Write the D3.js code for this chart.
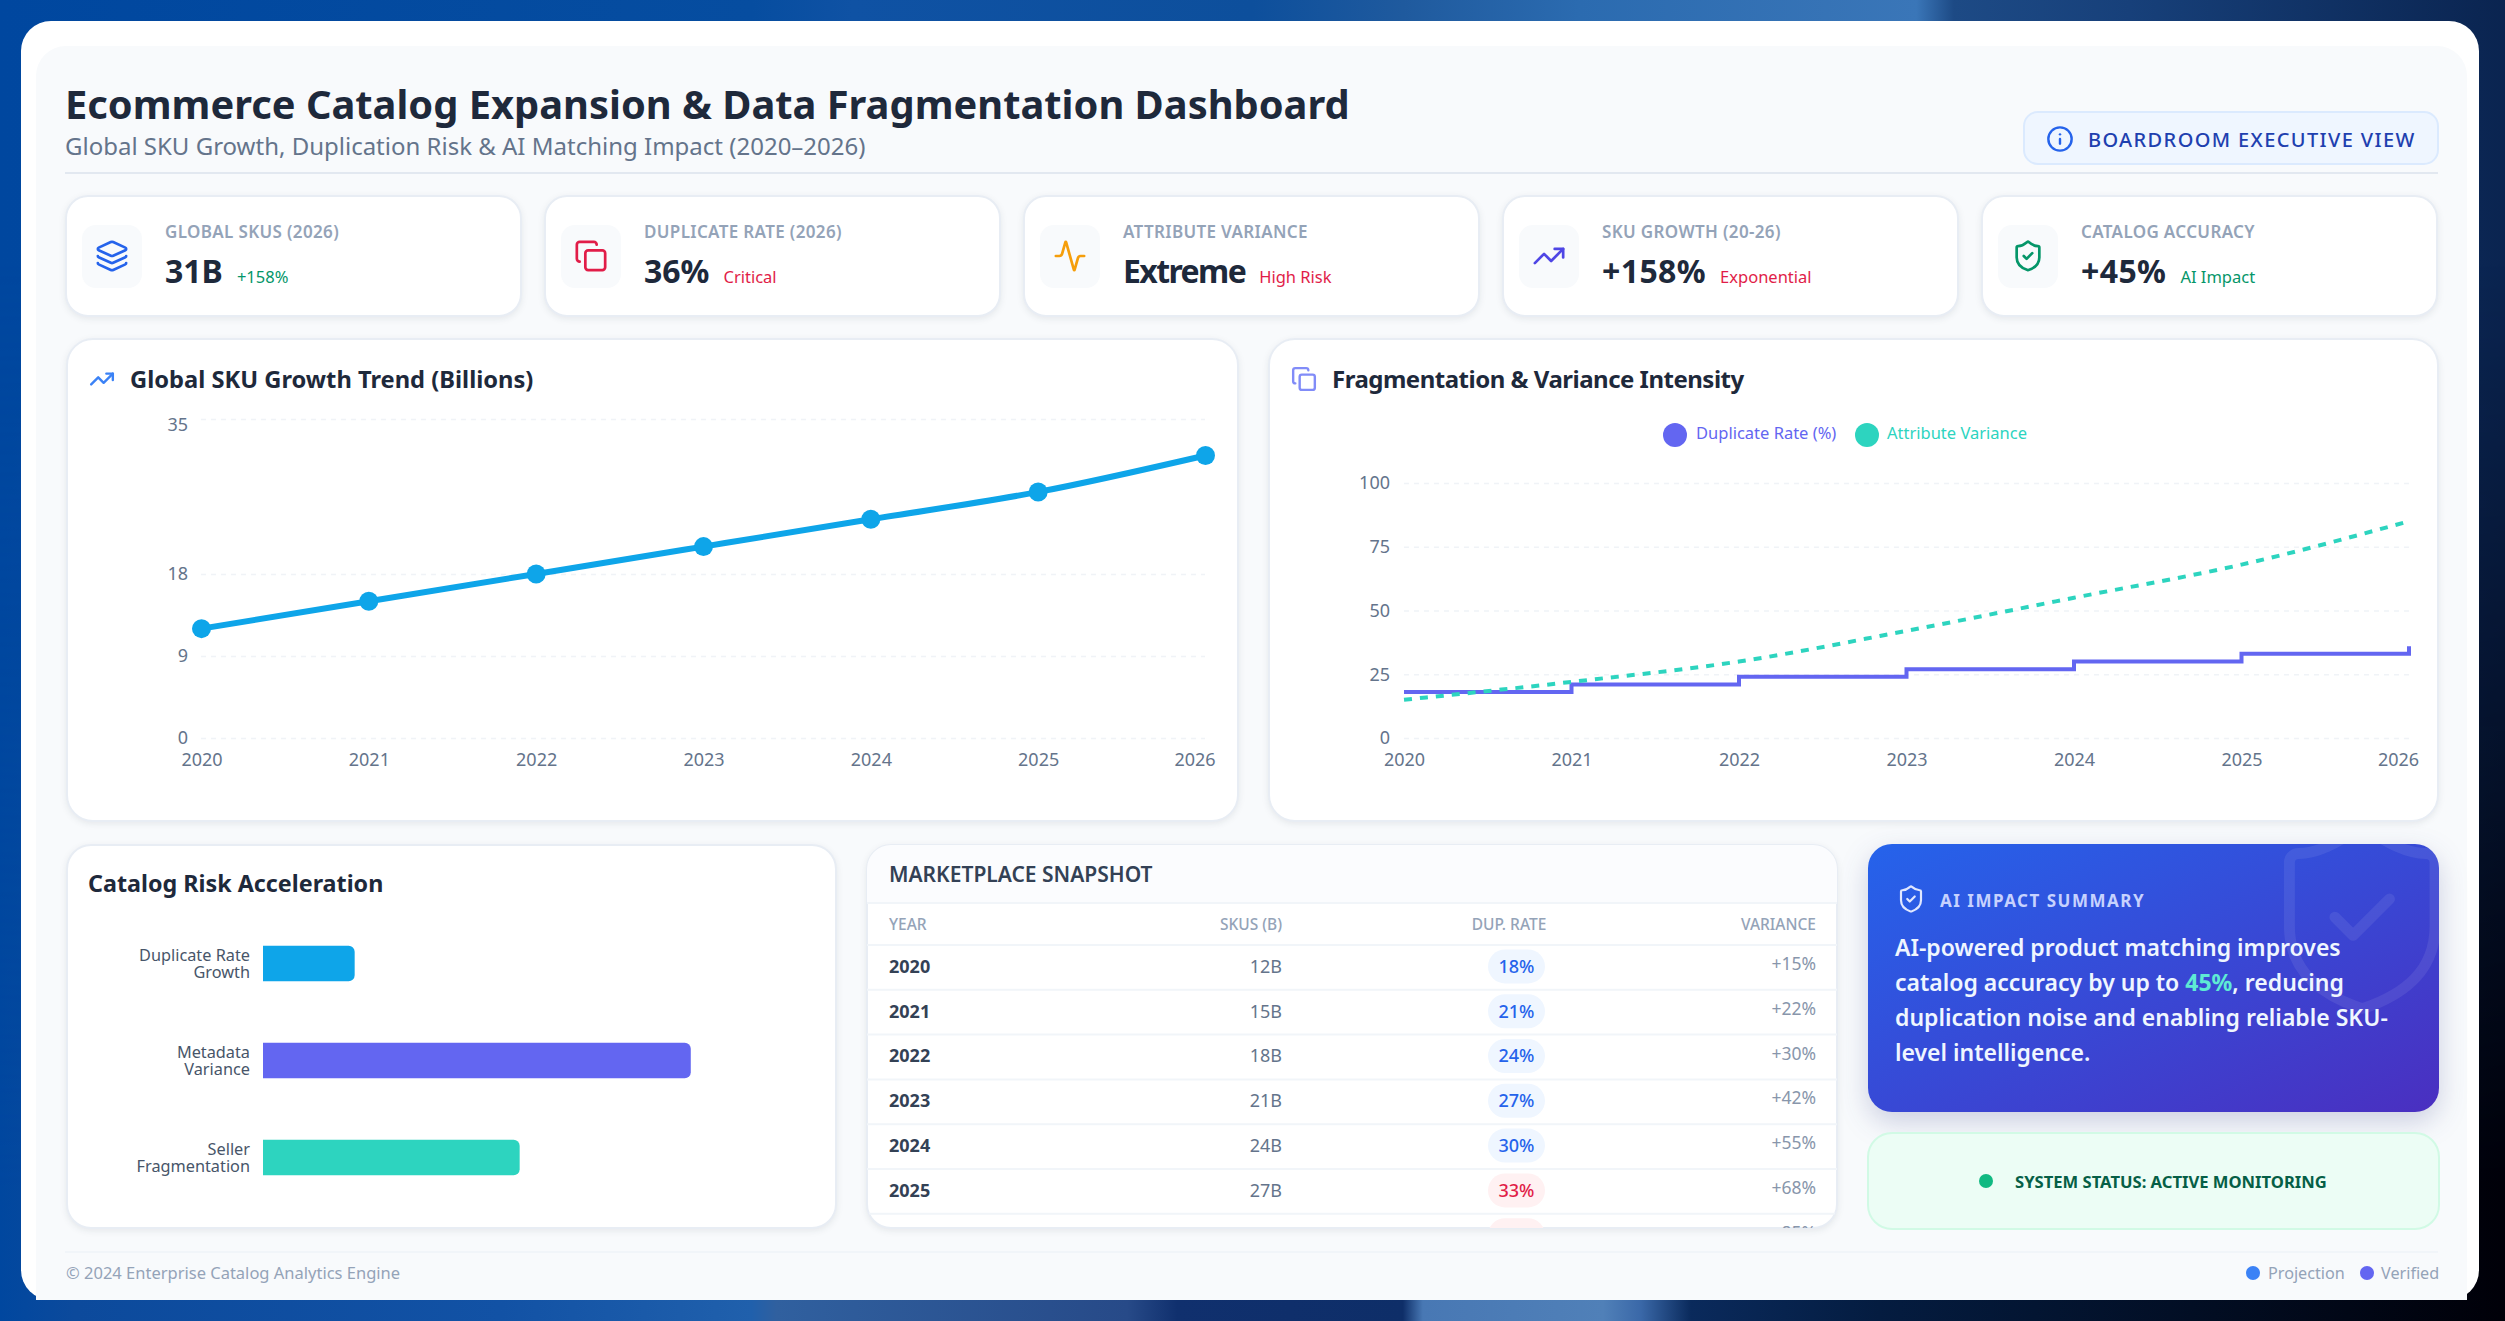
<!DOCTYPE html>
<html>
<head>
    <meta charset="utf-8">
    <title>Ecommerce Catalog Dashboard</title>
    <style>
        html, body { margin: 0; padding: 0; background: #00479f; overflow: hidden; }
        svg { display: block; }
        text { font-family: "Noto Sans", "Open Sans", sans-serif; }
        .card { fill: #fff; stroke: #e8edf4; stroke-width: 2; filter: drop-shadow(0 2px 3px rgba(15,23,42,.08)); }
        .grid line { stroke: #f0f3f7; stroke-width: 1.6; stroke-dasharray: 5 5; }
        .tick text { fill: #64748b; font-size: 18px; }
    </style>
</head>
<body>
<svg id="dash" width="2505" height="1321" viewBox="0 0 2505 1321"></svg>
<script src="https://d3js.org/d3.v7.min.js"></script>
<script>
    // chart data
    const years = [2020, 2021, 2022, 2023, 2024, 2025, 2026];
    const skuValues = [12, 15, 18, 21, 24, 27, 31];
    const dupRates = [18, 21, 24, 27, 30, 33, 36];
    const varianceValues = [15, 22, 30, 42, 55, 68, 85];
    const skuTicks = [0, 9, 18, 35];
    const fragTicks = [0, 25, 50, 75, 100];
    const riskLabels = [['Duplicate Rate', 'Growth'], ['Metadata', 'Variance'], ['Seller', 'Fragmentation']];
    const riskValues = [15, 70, 42];

    // kpi row
    const kpiLabels = ['GLOBAL SKUS (2026)', 'DUPLICATE RATE (2026)', 'ATTRIBUTE VARIANCE', 'SKU GROWTH (20-26)', 'CATALOG ACCURACY'];
    const kpiValues = ['31B', '36%', 'Extreme', '+158%', '+45%'];
    const kpiNotes = ['+158%', 'Critical', 'High Risk', 'Exponential', 'AI Impact'];
    const tableHeads = ['YEAR', 'SKUS (B)', 'DUP. RATE', 'VARIANCE'];
    const aiLines = ['AI-powered product matching improves', 'catalog accuracy by up to ', 'duplication noise and enabling reliable SKU-', 'level intelligence.'];

    // styles
    const kpiIconColors = ['#2563eb', '#e11d48', '#f59e0b', '#4f46e5', '#059669'];
    const kpiNoteColors = ['#059669', '#e11d48', '#e11d48', '#e11d48', '#059669'];
    const kpiValueSpacing = [0, 0, -1.6, 0.4, 0.4];
    const riskColors = ['#0ea5e9', '#6366f1', '#2dd4bf'];

    const icons = {
        layers: ['M12.83 2.18a2 2 0 0 0-1.66 0L2.6 6.08a1 1 0 0 0 0 1.83l8.58 3.91a2 2 0 0 0 1.66 0l8.58-3.9a1 1 0 0 0 0-1.83z', 'M2 12a1 1 0 0 0 .58.91l8.6 3.91a2 2 0 0 0 1.65 0l8.58-3.9A1 1 0 0 0 22 12', 'M2 17a1 1 0 0 0 .58.91l8.6 3.91a2 2 0 0 0 1.65 0l8.58-3.9A1 1 0 0 0 22 17'],
        copy: ['M10 8h10a2 2 0 0 1 2 2v10a2 2 0 0 1-2 2H10a2 2 0 0 1-2-2V10a2 2 0 0 1 2-2z', 'M4 16c-1.1 0-2-.9-2-2V4c0-1.1.9-2 2-2h10c1.1 0 2 .9 2 2'],
        activity: ['M22 12h-2.48a2 2 0 0 0-1.93 1.46l-2.35 8.36a.25.25 0 0 1-.48 0L9.24 2.18a.25.25 0 0 0-.48 0l-2.35 8.36A2 2 0 0 1 4.49 12H2'],
        trend: ['M16 7h6v6', 'm22 7-8.5 8.5-5-5L2 17'],
        shield: ['M20 13c0 5-3.5 7.5-7.66 8.95a1 1 0 0 1-.67-.01C7.5 20.5 4 18 4 13V6a1 1 0 0 1 1-1c2 0 4.5-1.2 6.24-2.72a1.17 1.17 0 0 1 1.52 0C14.51 3.81 17 5 19 5a1 1 0 0 1 1 1z', 'm9 12 2 2 4-4'],
        info: ['M22 12a10 10 0 1 1-20 0 10 10 0 0 1 20 0z', 'M12 16v-4', 'M12 8h.01']
    };

    const svg = d3.select('#dash');
    const defs = svg.append('defs');

    function hGradient(id, stops) {
        const g = defs.append('linearGradient').attr('id', id);
        stops.forEach(s => g.append('stop').attr('offset', s[0]).attr('stop-color', s[1]));
    }

    hGradient('bgTop', [[0, '#00479f'], [.3, '#064da0'], [.34, '#0f52a4'], [.5, '#0d4f9c'], [.56, '#1f5a9e'], [.63, '#2b6bb0'], [.765, '#3a76b8'], [.78, '#1d4a85'], [.85, '#17407a'], [1, '#0a2450']]);
    hGradient('bgBottom', [[0, '#00479f'], [.03, '#0c4a9c'], [.2, '#1252a5'], [.3, '#2060ac'], [.31, '#30609f'], [.45, '#274a88'], [.47, '#10306e'], [.56, '#0e2e68'], [.568, '#4878b4'], [.64, '#5080b8'], [.655, '#3a68a8'], [.675, '#0a2a5c'], [.75, '#041c40'], [1, '#000008']]);
    const fade = defs.append('linearGradient').attr('id', 'fade').attr('x2', 0).attr('y2', 1);
    fade.append('stop').attr('offset', .2).attr('stop-color', '#000');
    fade.append('stop').attr('offset', .9).attr('stop-color', '#fff');
    defs.append('mask').attr('id', 'fadeMask').attr('maskUnits', 'userSpaceOnUse')
        .attr('x', 0).attr('y', 0).attr('width', 2505).attr('height', 1321)
        .append('rect').attr('width', 2505).attr('height', 1321).attr('fill', 'url(#fade)');

    const aiGrad = defs.append('linearGradient').attr('id', 'aiGrad').attr('x1', 0).attr('y1', 0).attr('x2', 1).attr('y2', 1);
    aiGrad.append('stop').attr('offset', 0).attr('stop-color', '#2563eb');
    aiGrad.append('stop').attr('offset', 1).attr('stop-color', '#4a2fc0');

    defs.append('clipPath').attr('id', 'tableClip').append('rect')
        .attr('x', 867).attr('y', 845).attr('width', 970).attr('height', 383).attr('rx', 24);
    defs.append('clipPath').attr('id', 'aiClip').append('rect')
        .attr('x', 1868).attr('y', 844).attr('width', 571).attr('height', 268).attr('rx', 24);

    // background and sheet
    svg.append('rect').attr('width', 2505).attr('height', 1321).attr('fill', 'url(#bgTop)');
    svg.append('rect').attr('width', 2505).attr('height', 1321).attr('fill', 'url(#bgBottom)').attr('mask', 'url(#fadeMask)');
    svg.append('rect').attr('x', 21).attr('y', 21).attr('width', 2458).attr('height', 1279).attr('rx', 30).attr('fill', '#fff');
    svg.append('path').attr('d', 'M36 76a30 30 0 0 1 30-30H2437a30 30 0 0 1 30 30V1300H36z').attr('fill', '#f8fafc');

    function card(x, y, w, h, r) {
        return svg.append('rect').attr('class', 'card').attr('x', x).attr('y', y).attr('width', w).attr('height', h).attr('rx', r);
    }

    function icon(parent, name, cx, cy, size, color, sw) {
        const k = size / 24;
        const g = parent.append('g').attr('transform', `translate(${cx - size / 2},${cy - size / 2}) scale(${k})`)
            .attr('fill', 'none').attr('stroke', color).attr('stroke-width', sw / k)
            .attr('stroke-linecap', 'round').attr('stroke-linejoin', 'round');
        g.selectAll('path').data(icons[name]).join('path').attr('d', d => d);
        return g;
    }

    function label(parent, str, x, y, size, color, opts) {
        opts = opts || {};
        return parent.append('text').attr('x', x).attr('y', y).text(str)
            .attr('font-size', size).attr('fill', color)
            .attr('font-weight', opts.weight || 400)
            .attr('text-anchor', opts.anchor || 'start')
            .attr('letter-spacing', opts.spacing || null)
            .attr('font-family', opts.family || null);
    }

    // header
    label(svg, 'Ecommerce Catalog Expansion & Data Fragmentation Dashboard', 65, 119, 39.85, '#1e293b', { weight: 700 });
    label(svg, 'Global SKU Growth, Duplication Risk & AI Matching Impact (2020–2026)', 65, 155, 24, '#64748b');
    svg.append('line').attr('x1', 65).attr('x2', 2438).attr('y1', 173).attr('y2', 173).attr('stroke', '#e2e8f0').attr('stroke-width', 2);
    svg.append('rect').attr('x', 2024).attr('y', 112).attr('width', 414).attr('height', 52).attr('rx', 14)
        .attr('fill', '#eff6ff').attr('stroke', '#dbeafe').attr('stroke-width', 2);
    icon(svg, 'info', 2060, 139, 28, '#2563eb', 2.4);
    label(svg, 'BOARDROOM EXECUTIVE VIEW', 2088, 147, 20, '#1e40af', { weight: 500, spacing: '1.38px' });

    // kpi cards
    const kpiNames = ['layers', 'copy', 'activity', 'trend', 'shield'];
    kpiLabels.forEach((name, i) => {
        const x = 66 + i * 479;
        card(x, 196, 455, 120, 22);
        svg.append('rect').attr('x', x + 16).attr('y', 225).attr('width', 60).attr('height', 63).attr('rx', 14).attr('fill', '#f8fafc');
        icon(svg, kpiNames[i], x + 46, 256, 34, kpiIconColors[i], 2.7);
        label(svg, name, x + 99, 238, 17, '#94a3b8', { weight: 600, spacing: '.35px' });
        const v = label(svg, kpiValues[i], x + 99, 283, 32, '#1e293b', { weight: 700, spacing: kpiValueSpacing[i] + 'px' });
        const w = v.node().getComputedTextLength();
        label(svg, kpiNotes[i], x + 99 + w + 14, 283, 16.5, kpiNoteColors[i]);
    });

    // sku growth chart
    card(67, 339, 1171, 482, 26);
    icon(svg, 'trend', 102, 379, 26, '#3b82f6', 2.4);
    label(svg, 'Global SKU Growth Trend (Billions)', 130, 388, 23.7, '#1e293b', { weight: 700 });

    const xSku = d3.scalePoint().domain(years).range([201.5, 1205.5]);
    const ySku = d3.scaleLinear().domain([0, 35]).range([738, 419]);

    const skuGrid = svg.append('g').attr('class', 'grid').attr('transform', 'translate(188,0)')
        .call(d3.axisLeft(ySku).tickValues(skuTicks).tickSize(-1017).tickPadding(0));
    skuGrid.select('.domain').remove();
    skuGrid.selectAll('line').attr('x1', 13).attr('x2', 1017);
    skuGrid.selectAll('text').attr('x', 0).attr('dy', d => d === 35 ? '0.65em' : '0.32em');

    const skuAxis = svg.append('g').attr('transform', 'translate(0,738)')
        .call(d3.axisBottom(xSku).tickSize(0).tickPadding(15));
    skuAxis.select('.domain').remove();
    skuAxis.selectAll('text').attr('dx', d => d === 2026 ? -11 : 0);

    const skuLine = d3.line().x((d, i) => xSku(years[i])).y(d => ySku(d)).curve(d3.curveMonotoneX);
    svg.append('path').datum(skuValues).attr('d', skuLine).attr('fill', 'none').attr('stroke', '#0ea5e9').attr('stroke-width', 6);
    svg.selectAll('.sku-dot').data(skuValues).join('circle').attr('class', 'sku-dot')
        .attr('cx', (d, i) => xSku(years[i])).attr('cy', d => ySku(d)).attr('r', 9.5).attr('fill', '#0ea5e9');

    // fragmentation chart
    card(1269, 339, 1169, 482, 26);
    icon(svg, 'copy', 1304, 379, 26, '#818cf8', 2.4);
    label(svg, 'Fragmentation & Variance Intensity', 1332, 388, 24, '#1e293b', { weight: 700, spacing: '-.5px' });

    svg.append('circle').attr('cx', 1675).attr('cy', 435).attr('r', 12).attr('fill', '#6366f1');
    label(svg, 'Duplicate Rate (%)', 1696, 439, 16.5, '#6366f1');
    svg.append('circle').attr('cx', 1867).attr('cy', 435).attr('r', 12).attr('fill', '#2dd4bf');
    label(svg, 'Attribute Variance', 1887, 439, 16.5, '#2dd4bf');

    const xFrag = d3.scalePoint().domain(years).range([1404, 2409]);
    const yFrag = d3.scaleLinear().domain([0, 100]).range([738, 483]);

    const fragGrid = svg.append('g').attr('class', 'grid').attr('transform', 'translate(1390,0)')
        .call(d3.axisLeft(yFrag).tickValues(fragTicks).tickSize(-1019).tickPadding(0));
    fragGrid.select('.domain').remove();
    fragGrid.selectAll('line').attr('x1', 14).attr('x2', 1019);
    fragGrid.selectAll('text').attr('x', 0);

    const fragAxis = svg.append('g').attr('transform', 'translate(0,738)')
        .call(d3.axisBottom(xFrag).tickSize(0).tickPadding(15));
    fragAxis.select('.domain').remove();
    fragAxis.selectAll('text').attr('dx', d => d === 2026 ? -11 : 0);

    const dupLine = d3.line().x((d, i) => xFrag(years[i])).y(d => yFrag(d)).curve(d3.curveStepAfter);
    svg.append('path').datum(dupRates).attr('d', dupLine).attr('fill', 'none').attr('stroke', '#6366f1').attr('stroke-width', 4);
    const varLine = d3.line().x((d, i) => xFrag(years[i])).y(d => yFrag(d)).curve(d3.curveMonotoneX);
    svg.append('path').datum(varianceValues).attr('d', varLine).attr('fill', 'none').attr('stroke', '#2dd4bf')
        .attr('stroke-width', 4).attr('stroke-dasharray', '8 8');

    // risk bars
    card(67, 845, 769, 383, 24);
    label(svg, 'Catalog Risk Acceleration', 88, 892, 23.3, '#1e293b', { weight: 700 });

    const yRisk = d3.scaleBand().domain(d3.range(riskValues.length)).range([915, 1206]).paddingInner(.634).paddingOuter(.317);
    const xRisk = d3.scaleLinear().domain([0, 90]).range([263, 813]);

    function barPath(i) {
        const x0 = xRisk(0), x1 = xRisk(riskValues[i]), y0 = yRisk(i), h = yRisk.bandwidth(), r = 6;
        const p = d3.path();
        p.moveTo(x0, y0);
        p.lineTo(x1 - r, y0);
        p.arcTo(x1, y0, x1, y0 + r, r);
        p.lineTo(x1, y0 + h - r);
        p.arcTo(x1, y0 + h, x1 - r, y0 + h, r);
        p.lineTo(x0, y0 + h);
        p.closePath();
        return p.toString();
    }

    svg.selectAll('.risk-bar').data(riskValues).join('path').attr('class', 'risk-bar')
        .attr('d', (d, i) => barPath(i)).attr('fill', (d, i) => riskColors[i]);
    riskLabels.forEach((lines, i) => {
        const cy = yRisk(i) + yRisk.bandwidth() / 2;
        lines.forEach((t, j) => label(svg, t, 250, cy - 3 + j * 17.5, 16.3, '#475569', { anchor: 'end' }));
    });

    // table
    card(867, 845, 970, 383, 24);
    const tbl = svg.append('g').attr('clip-path', 'url(#tableClip)');
    tbl.append('rect').attr('x', 867).attr('y', 845).attr('width', 970).attr('height', 58).attr('fill', '#fbfcfe');
    label(tbl, 'MARKETPLACE SNAPSHOT', 889, 882, 21, '#334155', { weight: 600 });

    [903, 945].forEach(y => tbl.append('line').attr('x1', 867).attr('x2', 1837).attr('y1', y).attr('y2', y).attr('stroke', '#f1f5f9').attr('stroke-width', 2));

    const colX = [889, 1282, 1509, 1816];
    const colAnchor = ['start', 'end', 'middle', 'end'];
    tableHeads.forEach((t, i) => label(tbl, t, colX[i], 930, 15.5, '#94a3b8', { weight: 500, anchor: colAnchor[i] }));

    const yRow = d3.scaleBand().domain(years).range([945, 945 + 7 * 44.8]);
    const rows = tbl.selectAll('.row').data(years).join('g').attr('class', 'row')
        .attr('transform', d => `translate(0,${yRow(d) + yRow.bandwidth() / 2 - 1})`);
    rows.append('line').attr('x1', 867).attr('x2', 1837).attr('y1', yRow.bandwidth() / 2 + 1).attr('y2', yRow.bandwidth() / 2 + 1)
        .attr('stroke', '#f1f5f9').attr('stroke-width', 2);
    rows.append('text').attr('x', colX[0]).attr('dy', '.35em').attr('font-size', 18).attr('font-weight', 700).attr('fill', '#334155').text(d => d);
    rows.append('text').attr('x', colX[1]).attr('dy', '.35em').attr('font-size', 18).attr('text-anchor', 'end').attr('fill', '#64748b').text((d, i) => skuValues[i] + 'B');
    rows.append('rect').attr('x', 1488).attr('y', -17).attr('width', 57).attr('height', 34).attr('rx', 17)
        .attr('fill', (d, i) => dupRates[i] > 30 ? '#fff1f2' : '#eff6ff');
    rows.append('text').attr('x', 1516.5).attr('dy', '.35em').attr('font-size', 18).attr('font-weight', 500).attr('text-anchor', 'middle')
        .attr('fill', (d, i) => dupRates[i] > 30 ? '#e11d48' : '#2563eb').text((d, i) => dupRates[i] + '%');
    rows.append('text').attr('x', colX[3]).attr('dy', '.2em').attr('font-size', 17.5).attr('text-anchor', 'end')
        .attr('font-family', '"DejaVu Sans Mono", monospace').attr('fill', '#8896ab').text((d, i) => '+' + varianceValues[i] + '%');

    // ai summary
    svg.append('rect').attr('x', 1868).attr('y', 844).attr('width', 571).attr('height', 268).attr('rx', 24)
        .attr('fill', 'url(#aiGrad)').style('filter', 'drop-shadow(0 10px 14px rgba(30,41,120,.2))');
    const ai = svg.append('g').attr('clip-path', 'url(#aiClip)');
    ai.append('g').attr('transform', 'translate(2253,808) scale(9.1)').attr('fill', 'none').attr('stroke', '#fff')
        .attr('stroke-opacity', .08).attr('stroke-width', 1.2).attr('stroke-linecap', 'round').attr('stroke-linejoin', 'round')
        .selectAll('path').data(icons.shield).join('path').attr('d', d => d);
    icon(ai, 'shield', 1911, 899, 30, '#e0e7ff', 2.2);
    label(ai, 'AI IMPACT SUMMARY', 1940, 907, 17, '#c7d2fe', { weight: 700, spacing: '1.5px' });
    aiLines.forEach((t, i) => {
        const line = label(ai, t, 1895, 956 + i * 35, 23, '#eff6ff', { weight: 600 });
        if (i === 1) {
            line.append('tspan').attr('fill', '#5eead4').attr('font-weight', 700).text('45%');
            line.append('tspan').text(', reducing');
        }
    });

    // status
    svg.append('rect').attr('x', 1868).attr('y', 1133).attr('width', 571).attr('height', 96).attr('rx', 24)
        .attr('fill', '#ecfdf5').attr('stroke', '#d1fae5').attr('stroke-width', 2);
    svg.append('circle').attr('cx', 1986).attr('cy', 1181).attr('r', 7).attr('fill', '#10b981');
    label(svg, 'SYSTEM STATUS: ACTIVE MONITORING', 2015, 1188, 16.6, '#065f46', { weight: 700 });

    // footer
    svg.append('line').attr('x1', 65).attr('x2', 2438).attr('y1', 1252).attr('y2', 1252).attr('stroke', '#f1f5f9').attr('stroke-width', 2);
    label(svg, '© 2024 Enterprise Catalog Analytics Engine', 66, 1279, 16.5, '#94a3b8');
    svg.append('circle').attr('cx', 2253).attr('cy', 1273).attr('r', 7).attr('fill', '#3b82f6');
    label(svg, 'Projection', 2268, 1279, 16.2, '#94a3b8');
    svg.append('circle').attr('cx', 2367).attr('cy', 1273).attr('r', 7).attr('fill', '#6366f1');
    label(svg, 'Verified', 2381, 1279, 16.2, '#94a3b8');
</script>
</body>
</html>
